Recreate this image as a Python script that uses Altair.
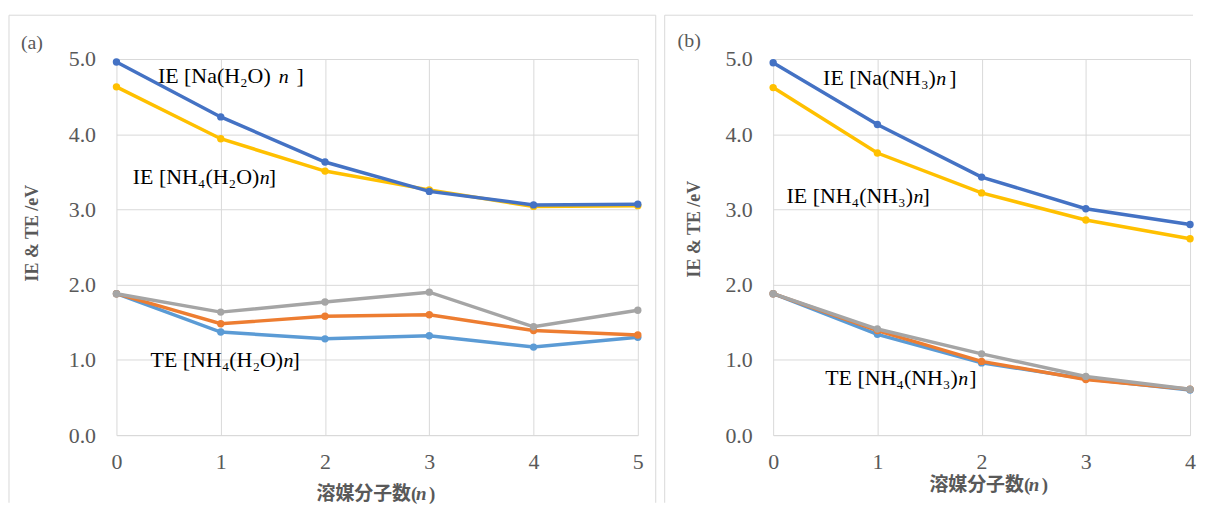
import altair as alt
import pandas as pd

# ---------------- data ----------------
n_h2o = [0, 1, 2, 3, 4, 5]
ie_na_h2o = [4.96, 4.23, 3.63, 3.24, 3.06, 3.07]
ie_nh4_h2o = [4.63, 3.94, 3.51, 3.26, 3.04, 3.05]
te_a_h2o = [1.88, 1.37, 1.28, 1.32, 1.17, 1.30]
te_b_h2o = [1.88, 1.48, 1.58, 1.60, 1.39, 1.33]
te_c_h2o = [1.88, 1.635, 1.77, 1.90, 1.44, 1.66]

n_nh3 = [0, 1, 2, 3, 4]
ie_na_nh3 = [4.95, 4.13, 3.43, 3.01, 2.80]
ie_nh4_nh3 = [4.62, 3.75, 3.22, 2.86, 2.61]
te_a_nh3 = [1.88, 1.34, 0.96, 0.75, 0.60]
te_b_nh3 = [1.88, 1.39, 0.98, 0.74, 0.61]
te_c_nh3 = [1.88, 1.41, 1.08, 0.78, 0.61]

y_ticks = [0, 1, 2, 3, 4, 5]
x_ticks_a = [0, 1, 2, 3, 4, 5]
x_ticks_b = [0, 1, 2, 3, 4]

panel_tags = ["(a)", "(b)"]
y_title = "IE & TE /eV"
x_title_parts = ["溶媒分子数", "(", "n", ")"]
labels_a = [("IE [Na(H₂O)", "n", "]"), ("IE [NH₄(H₂O)", "n", "]"), ("TE [NH₄(H₂O)", "n", "]")]
labels_b = [("IE [Na(NH₃)", "n", "]"), ("IE [NH₄(NH₃)", "n", "]"), ("TE [NH₄(NH₃)", "n", "]")]

# series colours in drawing order: TE a, TE b, TE c, IE NH4, IE Na
colors = ["#5B9BD5", "#ED7D31", "#A5A5A5", "#FFC000", "#4472C4"]

SERIF = "Liberation Serif"
CJK = "Noto Sans CJK JP"
GRID = "#D9D9D9"
LABEL = "#595959"
H = 378


def series(xs, ys, color, xdom, xvals):
    df = pd.DataFrame({"n": xs, "v": ys})
    return alt.Chart(df).mark_line(
        color=color, strokeWidth=3.5,
        point=alt.OverlayMarkDef(color=color, filled=True, size=55, opacity=1),
    ).encode(
        x=alt.X("n:Q", title=None,
                scale=alt.Scale(domain=xdom, nice=False, zero=False),
                axis=alt.Axis(values=xvals, format="d", grid=True, domain=True,
                              ticks=False, labelPadding=17, labelFlush=False,
                              labelFont=SERIF, labelFontSize=22, labelColor=LABEL)),
        y=alt.Y("v:Q", title=None,
                scale=alt.Scale(domain=[0, 5], nice=False),
                axis=alt.Axis(values=y_ticks, format=".1f", grid=True, domain=False,
                              ticks=False, labelPadding=21,
                              labelFont=SERIF, labelFontSize=22, labelColor=LABEL)),
    )


def txt(s, x, y, size, color="#000000", align="left", baseline="alphabetic",
        font=SERIF, style="normal", weight="normal", angle=0):
    return alt.Chart(pd.DataFrame({"s": [s]})).mark_text(
        align=align, baseline=baseline, font=font, fontSize=size,
        fontStyle=style, fontWeight=weight, color=color, angle=angle,
    ).encode(text="s:N", x=alt.value(x), y=alt.value(y))


def rule(x1, x2, y1, y2):
    return alt.Chart(pd.DataFrame({"k": [0]})).mark_rule(
        color=GRID, strokeWidth=1
    ).encode(x=alt.value(x1), x2=alt.value(x2), y=alt.value(y1), y2=alt.value(y2))


def label(parts, xp, xn, xb, yb):
    pre, n, close = parts
    return [
        txt(pre, xp, yb, 22, align="right"),
        txt(n, xn, yb, 20, style="italic"),
        txt(close, xb, yb, 22),
    ]


def xtitle(xa, xn, xc, yb):
    p = x_title_parts
    return [
        txt(p[0], xa, yb, 19, color=LABEL, align="right", font=CJK, weight="bold"),
        txt(p[1], xa, yb, 19, color=LABEL, weight="bold"),
        txt(p[2], xn, yb, 19, color=LABEL, weight="bold", style="italic"),
        txt(p[3], xc, yb, 19, color=LABEL, weight="bold"),
    ]


# ---------------- panel (a) ----------------
ys_a = [te_a_h2o, te_b_h2o, te_c_h2o, ie_nh4_h2o, ie_na_h2o]
layers_a = [rule(-108, -108, -44, 446), rule(-108, 542, -44, -44), rule(542, 542, -44, 446)]
layers_a += [series(n_h2o, ys, c, [0, 5], x_ticks_a) for ys, c in zip(ys_a, colors)]
layers_a += [txt(panel_tags[0], -96, -16, 20, color=LABEL, baseline="middle")]
layers_a += [txt(y_title, -84, 175, 18, color=LABEL, align="center", baseline="middle",
                 weight="bold", angle=270)]
layers_a += xtitle(296, 301, 314, 443)
layers_a += label(labels_a[0], 155, 163, 181, 24)
layers_a += label(labels_a[1], 143.5, 144, 153, 126)
layers_a += label(labels_a[2], 167.5, 168, 177, 310)
panel_a = alt.layer(*layers_a).properties(width=524, height=H)

# ---------------- panel (b) ----------------
ys_b = [te_a_nh3, te_b_nh3, te_c_nh3, ie_nh4_nh3, ie_na_nh3]
layers_b = [rule(-109, -109, -44, 446), rule(-109, 422, -44, -44)]
layers_b += [series(n_nh3, ys, c, [0, 4], x_ticks_b) for ys, c in zip(ys_b, colors)]
layers_b += [txt(panel_tags[1], -96, -18, 20, color=LABEL, baseline="middle")]
layers_b += [txt(y_title, -79, 171, 18, color=LABEL, align="center", baseline="middle",
                 weight="bold", angle=270)]
layers_b += xtitle(252, 257, 270, 434)
layers_b += label(labels_b[0], 163.5, 164, 177, 26)
layers_b += label(labels_b[1], 140.5, 141, 150, 145)
layers_b += label(labels_b[2], 185.5, 186, 197, 328)
panel_b = alt.layer(*layers_b).properties(width=419, height=H)

chart = alt.hconcat(panel_a, panel_b, spacing=7).properties(
    padding={"top": 5, "left": 0, "right": 0, "bottom": 0},
    background="white",
).configure_view(stroke="transparent").configure_axis(
    gridColor=GRID, gridWidth=1, domainColor=GRID, domainWidth=1,
    labelColor=LABEL, labelFont=SERIF, labelFontSize=22,
)

chart.save("out.html", embed_options={"renderer": "svg", "actions": False})
